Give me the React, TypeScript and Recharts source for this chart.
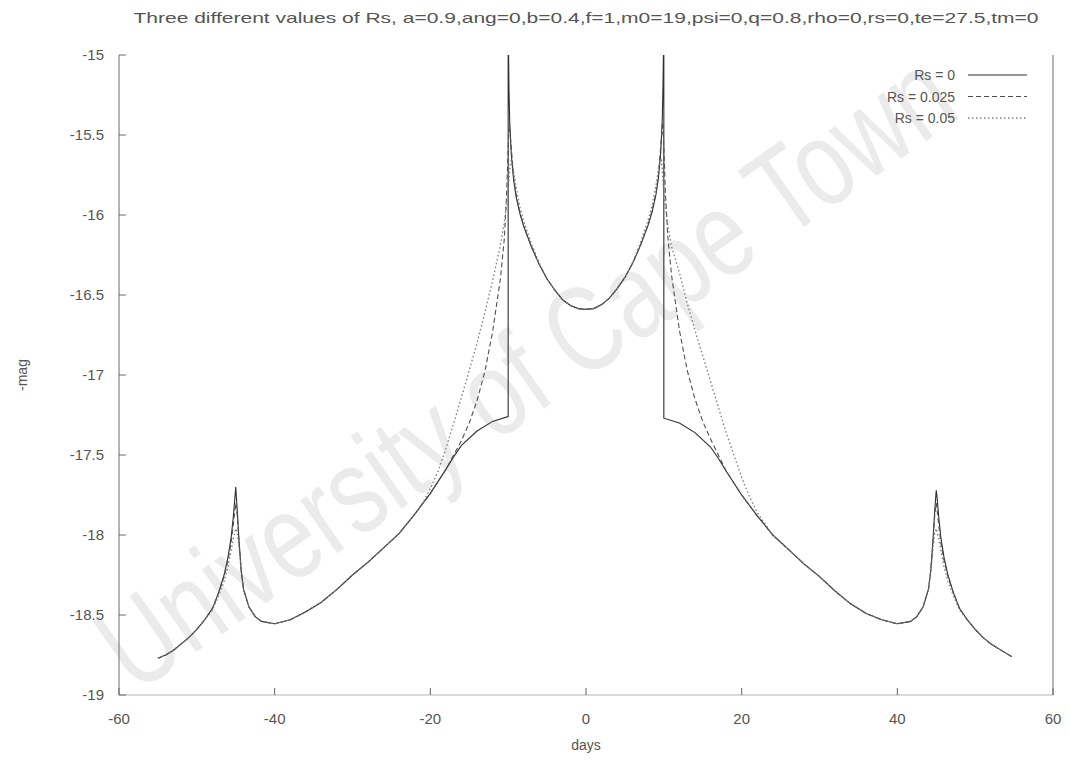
import React from 'react';
import { LineChart, Line, XAxis, YAxis, Legend } from 'recharts';

const FONT = '"Liberation Sans", Arial, Helvetica, sans-serif';

const titleText =
  'Three different values of Rs, a=0.9,ang=0,b=0.4,f=1,m0=19,psi=0,q=0.8,rho=0,rs=0,te=27.5,tm=0';
const xLabel = 'days';
const yLabel = '-mag';
const watermarkText = 'University of Cape Town';

const xTicks = [-60, -40, -20, 0, 20, 40, 60];
const yTicks = [-19, -18.5, -18, -17.5, -17, -16.5, -16, -15.5, -15];

const seriesNames = ['Rs = 0', 'Rs = 0.025', 'Rs = 0.05'];

// Rs = 0 (solid)
const rs0Days = [
  -55, -54, -53, -52, -51, -50, -49, -48, -47.2, -46.5, -46, -45.6, -45.3, -45.1, -45,
  -44.8, -44.6, -44.3, -44, -43.3, -42.5, -41.7, -40, -38, -36, -34, -32, -30, -28, -26,
  -24, -22, -20, -18, -17, -16, -14, -12, -10, -10, -9.97, -9.9, -9.8, -9.6, -9.3, -9,
  -8.5, -8, -7, -6, -5, -4, -3, -2, -1, 0,
  1, 2, 3, 4, 5, 6, 7, 8, 8.5, 9, 9.3, 9.6, 9.8, 9.9, 9.97, 10, 10, 12, 14, 16, 17, 18,
  20, 22, 24, 26, 28, 30, 32, 34, 36, 38, 40, 41.7, 42.5, 43.3, 44, 44.3, 44.6, 44.8, 45,
  45.1, 45.3, 45.6, 46, 46.5, 47.2, 48, 49, 50, 51, 52, 53, 54, 54.7,
];
const rs0Mag = [
  -18.77, -18.75, -18.72, -18.68, -18.64, -18.59, -18.53, -18.46, -18.36, -18.25, -18.14,
  -18.02, -17.88, -17.76, -17.7, -17.85, -18.02, -18.22, -18.34, -18.45, -18.51, -18.54,
  -18.555, -18.53, -18.48, -18.42, -18.34, -18.25, -18.17, -18.08, -17.99, -17.87, -17.74,
  -17.59, -17.51, -17.44, -17.35, -17.29, -17.26, -14.6, -14.9, -15.2, -15.42, -15.62,
  -15.78, -15.88, -15.99, -16.07, -16.2, -16.31, -16.4, -16.47, -16.53, -16.565, -16.585,
  -16.59,
  -16.585, -16.56, -16.52, -16.46, -16.39, -16.3, -16.19, -16.06, -15.98, -15.87, -15.77,
  -15.61, -15.4, -15.18, -14.9, -14.6, -17.27, -17.3, -17.36, -17.45, -17.52, -17.6,
  -17.75, -17.88, -18.0, -18.09, -18.18, -18.26, -18.35, -18.43, -18.49, -18.53, -18.555,
  -18.54, -18.51, -18.45, -18.34, -18.22, -18.02, -17.85, -17.72, -17.76, -17.88, -18.02,
  -18.14, -18.25, -18.36, -18.46, -18.53, -18.59, -18.64, -18.68, -18.71, -18.74, -18.76,
];

// Rs = 0.025 (dashed)
const rs025Days = [
  -55, -54, -53, -52, -51, -50, -49, -48, -47.2, -46.5, -46, -45.6, -45.3, -45.1, -45,
  -44.8, -44.6, -44.3, -44, -43.3, -42.5, -41.7, -40, -38, -36, -34, -32, -30, -28, -26,
  -24, -22, -20, -18, -17, -16, -15, -14, -13, -12, -11, -10.5, -10.2, -10, -9.85, -9.6,
  -9.3, -9, -8.5, -8, -7, -6, -5, -4, -3, -2, -1, 0,
  1, 2, 3, 4, 5, 6, 7, 8, 8.5, 9, 9.3, 9.6, 9.85, 10, 10.2, 10.5, 11, 12, 13, 14, 15, 16,
  17, 18, 20, 22, 24, 26, 28, 30, 32, 34, 36, 38, 40, 41.7, 42.5, 43.3, 44, 44.3, 44.6,
  44.8, 45, 45.1, 45.3, 45.6, 46, 46.5, 47.2, 48, 49, 50, 51, 52, 53, 54, 54.7,
];
const rs025Mag = [
  -18.77, -18.75, -18.72, -18.68, -18.64, -18.59, -18.53, -18.46, -18.36, -18.26, -18.16,
  -18.05, -17.93, -17.84, -17.8, -17.88, -18.03, -18.22, -18.34, -18.45, -18.51, -18.54,
  -18.555, -18.53, -18.48, -18.42, -18.34, -18.25, -18.17, -18.08, -17.99, -17.87, -17.74,
  -17.59, -17.5, -17.41, -17.3, -17.16, -16.98, -16.73, -16.4, -16.15, -15.87, -15.58,
  -15.42, -15.58, -15.76, -15.87, -15.98, -16.07, -16.2, -16.31, -16.4, -16.47, -16.53,
  -16.565, -16.585, -16.59,
  -16.585, -16.56, -16.52, -16.46, -16.39, -16.3, -16.19, -16.06, -15.97, -15.86, -15.75,
  -15.57, -15.42, -15.57, -15.86, -16.13, -16.38, -16.72, -16.97, -17.15, -17.29, -17.4,
  -17.5, -17.6, -17.75, -17.88, -18.0, -18.09, -18.18, -18.26, -18.35, -18.43, -18.49,
  -18.53, -18.555, -18.54, -18.51, -18.45, -18.34, -18.22, -18.03, -17.88, -17.8, -17.84,
  -17.93, -18.05, -18.16, -18.26, -18.36, -18.46, -18.53, -18.59, -18.64, -18.68, -18.71,
  -18.74, -18.76,
];

// Rs = 0.05 (dotted)
const rs05Days = [
  -55, -54, -53, -52, -51, -50, -49, -48, -47.2, -46.5, -46, -45.6, -45.3, -45.1, -45,
  -44.8, -44.6, -44.3, -44, -43.3, -42.5, -41.7, -40, -38, -36, -34, -32, -30, -28, -26,
  -24, -22, -21, -20, -19, -18, -17, -16, -15, -14, -13, -12, -11, -10.5, -10, -9.7, -9.4,
  -9, -8.5, -8, -7, -6, -5, -4, -3, -2, -1, 0,
  1, 2, 3, 4, 5, 6, 7, 8, 8.5, 9, 9.4, 9.7, 10, 10.5, 11, 12, 13, 14, 15, 16, 17, 18, 19,
  20, 21, 22, 24, 26, 28, 30, 32, 34, 36, 38, 40, 41.7, 42.5, 43.3, 44, 44.3, 44.6, 44.8,
  45, 45.1, 45.3, 45.6, 46, 46.5, 47.2, 48, 49, 50, 51, 52, 53, 54, 54.7,
];
const rs05Mag = [
  -18.77, -18.75, -18.72, -18.68, -18.64, -18.59, -18.53, -18.47, -18.38, -18.29, -18.2,
  -18.1, -18.02, -17.98, -17.96, -17.99, -18.07, -18.23, -18.34, -18.45, -18.51, -18.54,
  -18.555, -18.53, -18.48, -18.42, -18.34, -18.25, -18.17, -18.08, -17.99, -17.87, -17.8,
  -17.71, -17.6, -17.46, -17.3, -17.14, -16.97, -16.8, -16.61, -16.41, -16.19, -16.05,
  -15.85, -15.66, -15.7, -15.82, -15.95, -16.04, -16.18, -16.3, -16.4, -16.47, -16.53,
  -16.565, -16.585, -16.59,
  -16.585, -16.56, -16.52, -16.46, -16.39, -16.3, -16.17, -16.03, -15.94, -15.81, -15.69,
  -15.66, -15.86, -16.06, -16.2, -16.36, -16.55, -16.72, -16.88, -17.04, -17.2, -17.36,
  -17.5, -17.64, -17.76, -17.86, -18.0, -18.09, -18.18, -18.26, -18.35, -18.43, -18.49,
  -18.53, -18.555, -18.54, -18.51, -18.45, -18.34, -18.23, -18.07, -17.99, -17.96, -17.98,
  -18.02, -18.1, -18.2, -18.29, -18.38, -18.47, -18.53, -18.59, -18.64, -18.68, -18.71,
  -18.74, -18.76,
];

const toPoints = (days: number[], mag: number[]) => days.map((x, i) => ({ x, y: mag[i] }));

const seriesData = [
  toPoints(rs0Days, rs0Mag),
  toPoints(rs025Days, rs025Mag),
  toPoints(rs05Days, rs05Mag),
];
const seriesStroke = ['#2e2e2e', '#505050', '#7a7a7a'];
const seriesDash = ['', '5 3', '1.5 2.5'];
const seriesWidth = [1.1, 1.1, 1.3];

const renderLegend = () => (
  <svg width={240} height={70} style={{ display: 'block', overflow: 'visible' }}>
    {seriesNames.map((n, i) => (
      <g key={n}>
        <text
          x={135}
          y={11 + i * 21.5}
          textAnchor="end"
          dominantBaseline="central"
          fontFamily={FONT}
          fontSize={14}
          fill="#555"
        >
          {n}
        </text>
        <line
          x1={148}
          x2={207}
          y1={11 + i * 21.5}
          y2={11 + i * 21.5}
          stroke={seriesStroke[i]}
          strokeWidth={seriesWidth[i]}
          strokeDasharray={seriesDash[i] || undefined}
        />
      </g>
    ))}
  </svg>
);

const tickStyle = { fill: '#555', fontSize: 15, fontFamily: FONT };

export default function App() {
  return (
    <div style={{ position: 'absolute', left: 0, top: 0, width: 1069, height: 760, background: '#fff', overflow: 'hidden' }}>
      <svg width={1069} height={760} style={{ position: 'absolute', left: 0, top: 0 }}>
        <text
          x={0}
          y={0}
          transform="translate(525 370) rotate(-35) scale(0.77 1)"
          textAnchor="middle"
          dominantBaseline="central"
          fontFamily={FONT}
          fontSize={122}
          fill="#ebebeb"
        >
          {watermarkText}
        </text>
      </svg>
      <div style={{ position: 'absolute', left: 0, top: 0 }}>
        <LineChart width={1069} height={760} margin={{ top: 55, right: 0, bottom: 35, left: 0 }}>
          <XAxis
            xAxisId="b"
            type="number"
            dataKey="x"
            domain={[-60, 60]}
            ticks={xTicks}
            allowDataOverflow
            orientation="bottom"
            height={30}
            tick={tickStyle}
            tickSize={-7}
            tickMargin={25}
            axisLine={{ stroke: '#b5b5b5' }}
            tickLine={{ stroke: '#666' }}
          />
          <XAxis
            xAxisId="t"
            type="number"
            dataKey="x"
            domain={[-60, 60]}
            ticks={xTicks}
            allowDataOverflow
            orientation="top"
            height={0}
            tick={false}
            tickSize={-7}
            axisLine={{ stroke: '#c0c0c0' }}
            tickLine={{ stroke: '#777' }}
          />
          <YAxis
            yAxisId="l"
            type="number"
            domain={[-19, -15]}
            ticks={yTicks}
            allowDataOverflow
            width={119}
            tick={tickStyle}
            tickSize={-7}
            tickMargin={22}
            axisLine={{ stroke: '#6a6a6a' }}
            tickLine={{ stroke: '#666' }}
          />
          <YAxis
            yAxisId="r"
            orientation="right"
            type="number"
            domain={[-19, -15]}
            ticks={yTicks}
            allowDataOverflow
            width={16}
            tick={false}
            tickSize={-7}
            axisLine={{ stroke: '#6a6a6a' }}
            tickLine={{ stroke: '#666' }}
          />
          <Legend
            content={renderLegend}
            layout="horizontal"
            verticalAlign="middle"
            align="center"
            wrapperStyle={{ position: 'absolute', left: 820, top: 64, width: 240, height: 70 }}
          />
          {seriesData.map((d, i) => (
            <Line
              key={seriesNames[i]}
              name={seriesNames[i]}
              data={d}
              dataKey="y"
              xAxisId="b"
              yAxisId="l"
              type="linear"
              dot={false}
              activeDot={false}
              stroke={seriesStroke[i]}
              strokeWidth={seriesWidth[i]}
              strokeDasharray={seriesDash[i] || undefined}
              isAnimationActive={false}
            />
          ))}
        </LineChart>
      </div>
      <svg width={1069} height={760} style={{ position: 'absolute', left: 0, top: 0, pointerEvents: 'none' }}>
        <text
          x={586}
          y={17}
          textAnchor="middle"
          dominantBaseline="central"
          fontFamily={FONT}
          fontSize={15}
          textLength={905}
          lengthAdjust="spacingAndGlyphs"
          fill="#555"
        >
          {titleText}
        </text>
        <text x={586} y={745} textAnchor="middle" dominantBaseline="central" fontFamily={FONT} fontSize={14} fill="#555">
          {xLabel}
        </text>
        <text
          x={22}
          y={375}
          transform="rotate(-90 22 375)"
          textAnchor="middle"
          dominantBaseline="central"
          fontFamily={FONT}
          fontSize={14}
          fill="#555"
        >
          {yLabel}
        </text>
      </svg>
    </div>
  );
}
